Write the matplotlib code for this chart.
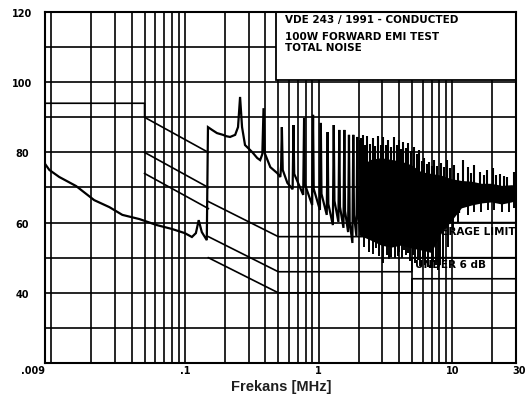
import numpy as np
import matplotlib
matplotlib.use("Agg")
import matplotlib.pyplot as plt
from matplotlib.patches import Rectangle
from matplotlib.transforms import blended_transform_factory, offset_copy

plt.rcParams['font.family'] = ['DejaVu Sans']

# Measured noise: 9 kHz - 150 kHz range, then start of the 150 kHz - 30 MHz range
spec_f = [0.0089, 0.0097, 0.0115, 0.0154, 0.021, 0.0273, 0.0341, 0.0458, 0.0616, 0.0799,
          0.100, 0.113, 0.121, 0.127, 0.134, 0.146,
          0.149, 0.160, 0.174, 0.193, 0.205, 0.218, 0.238, 0.250, 0.259, 0.268, 0.282,
          0.319, 0.348, 0.366, 0.380, 0.388, 0.396, 0.436, 0.491, 0.518, 0.525, 0.532,
          0.540, 0.585]
spec_db = [77.0, 75.0, 73.0, 70.4, 66.4, 64.4, 62.2, 61.0, 59.3, 58.2,
           57.0, 55.9, 57.0, 60.7, 57.3, 55.0,
           87.2, 86.4, 85.5, 85.0, 84.6, 84.4, 85.0, 87.2, 95.8, 87.2, 82.1,
           80.1, 78.4, 77.8, 79.5, 92.6, 79.8, 75.8, 74.1, 73.0, 76.0, 87.2,
           75.0, 71.3]

# Switching harmonics 0.65 - 2.1 MHz: peak level and floor reached just before each one
harm_f = [0.65, 0.78, 0.91, 1.04, 1.17, 1.30, 1.43, 1.56, 1.69, 1.82, 1.95, 2.08]
harm_peak = [87.8, 89.8, 90.7, 88.4, 85.8, 87.8, 86.4, 86.4, 85.0, 85.0, 84.4, 84.1]
harm_floor = [69.5, 67.9, 65.0, 63.6, 62.2, 59.3, 60.2, 58.5, 57.3, 54.2, 56.2, 57.3]

# Dense harmonic region 2 - 30 MHz: envelope of the solid trace
band_f = [2.0, 2.46, 2.93, 3.48, 4.14, 4.92, 5.85, 6.95, 8.27, 9.83, 11.7, 13.9, 16.5,
          19.6, 23.4, 27.8, 30.0]
band_hi = [76.0, 78.0, 78.5, 78.0, 77.5, 76.5, 74.5, 74.0, 73.5, 72.5, 72.0, 71.8, 71.2,
           71.2, 70.6, 70.8, 70.6]
band_lo = [56.5, 55.0, 53.6, 53.0, 53.6, 52.8, 52.2, 51.5, 57.0, 60.5, 64.2, 65.0, 65.6,
           65.9, 65.3, 65.9, 66.4]

# Individual peaks above the envelope
tip_f = [2.03, 2.14, 2.22, 2.30, 2.42, 2.55, 2.64, 2.78, 2.93, 3.03,
         3.19, 3.30, 3.48, 3.66, 3.85, 4.00, 4.14, 4.28, 4.51, 4.67,
         4.92, 5.18, 5.45, 5.65, 5.95, 6.16, 6.50, 6.71, 7.10, 7.32,
         7.70, 8.27, 8.70, 9.17, 9.60, 10.35, 11.1, 12.1, 13.2, 13.9,
         14.6, 16.0, 17.2, 18.3, 20.3, 21.4, 22.6, 24.5, 25.5, 28.8]
tip_db = [83.5, 85.0, 82.0, 84.7, 82.5, 84.1, 81.8, 84.7, 82.0, 84.4,
          82.2, 83.5, 81.5, 84.4, 82.0, 83.5, 81.0, 83.0, 81.2, 82.7,
          80.5, 81.5, 79.5, 80.7, 77.5, 78.4, 76.8, 77.3, 76.0, 77.8,
          76.0, 77.0, 75.8, 77.8, 75.5, 76.4, 74.0, 77.8, 75.8, 74.2,
          76.4, 74.4, 73.5, 75.0, 75.6, 73.6, 73.8, 73.2, 73.0, 74.4]

# Individual minima below the envelope
deep_f = [2.20, 2.38, 2.55, 2.68, 2.85, 3.03, 3.24, 3.36, 3.48, 3.72,
          3.90, 4.00, 4.20, 4.36, 4.50, 4.67, 4.85, 5.09, 5.30, 5.55,
          5.75, 6.05, 6.30, 6.60, 7.00, 7.20, 7.50, 7.85, 8.10, 8.55,
          9.33, 10.18, 11.1, 13.2, 14.6, 16.5, 18.6, 20.7, 23.4, 26.4, 29.2]
deep_db = [53.0, 51.6, 51.0, 52.8, 50.5, 48.5, 50.8, 49.5, 50.2, 49.9,
           50.5, 51.6, 49.8, 52.2, 50.8, 51.3, 49.0, 50.8, 48.5, 49.3,
           47.5, 49.9, 47.8, 47.4, 47.0, 48.8, 47.8, 46.5, 48.0, 48.8,
           53.0, 57.9, 60.2, 62.2, 63.0, 63.0, 63.6, 63.6, 63.0, 63.0, 64.2]

# Limit lines
lim_a_f, lim_a_db = [0.009, 0.05, 0.05, 0.15], [94, 94, 90, 80]
lim_b_f, lim_b_db = [0.05, 0.15], [80, 70]
lim_c_f, lim_c_db = [0.05, 0.15], [74, 64]
lim_hi_f = [0.15, 0.5, 5, 5, 30]
qp_db = [66, 56, 56, 60, 60]
avg_db = [56, 46, 46, 50, 50]
u6_db = [50, 40, 40, 44, 44]

# Axis grid and labels
x_grid_major = [0.1, 1, 10]
x_grid_minor = [0.01, 0.02, 0.03, 0.04, 0.05, 0.06, 0.07, 0.08, 0.09,
                0.2, 0.3, 0.4, 0.5, 0.6, 0.7, 0.8, 0.9,
                2, 3, 4, 5, 6, 7, 8, 9, 20]
y_grid = [30, 40, 50, 60, 70, 80, 90, 100, 110]
x_lab_pos = [0.009, 0.1, 1, 10, 30]
x_lab_txt = ['.009', '.1', '1', '10', '30']
y_lab_pos = [120, 100, 80, 60, 40]
y_lab_txt = ['120', '100', '80', '60', '40']

title_lines = ['VDE 243 / 1991 - CONDUCTED', '100W FORWARD EMI TEST', 'TOTAL NOISE']

fig = plt.figure(figsize=(5.27, 4.0), dpi=100)
ax = fig.add_axes([45 / 527, 37 / 400, 471 / 527, 351 / 400])
ax.set_xscale('log')
ax.set_xlim(0.009, 30)
ax.set_ylim(20, 120)

ax.set_xticks(x_grid_major)
ax.set_xticks(x_grid_minor, minor=True)
ax.set_yticks(y_grid)
ax.tick_params(which='both', length=0, labelbottom=False, labelleft=False)
ax.set_axisbelow(True)
ax.grid(which='both', color='black', lw=1.2)
for s in ax.spines.values():
    s.set_color('black')
    s.set_linewidth(1.5)
    s.set_zorder(10)

# Limit lines
lkw = dict(color='black', lw=1.2, zorder=2)
ax.plot(lim_a_f, lim_a_db, **lkw)
ax.plot(lim_b_f, lim_b_db, **lkw)
ax.plot(lim_c_f, lim_c_db, **lkw)
ax.plot(lim_hi_f, qp_db, **lkw)
ax.plot(lim_hi_f, avg_db, **lkw)
ax.plot(lim_hi_f, u6_db, **lkw)

lab_kw = dict(fontsize=7.5, fontweight='bold', va='center', ha='left', zorder=3)
ax.text(1.9, 63.6, 'QUASI-PEAK LIMIT', **lab_kw)
ax.text(6.38, 57.3, 'AVERAGE LIMIT', **lab_kw)
ax.text(5.3, 47.9, 'UNDER 6 dB', **lab_kw)

# Noise trace: measured points followed by the switching harmonics
tr_f = list(spec_f)
tr_db = list(spec_db)
for i, (fh, pk, fl) in enumerate(zip(harm_f, harm_peak, harm_floor)):
    nxt = harm_floor[i + 1] if i + 1 < len(harm_floor) else fl
    tr_f += [fh * 0.985, fh, fh * 1.012]
    tr_db += [fl, pk, nxt + 6]
ax.plot(tr_f, tr_db, color='black', lw=1.6, zorder=5, solid_joinstyle='miter')

ax.fill_between(band_f, band_lo, band_hi, color='black', lw=0, zorder=5)
lb = np.log10(band_f)
tip_base = np.interp(np.log10(tip_f), lb, band_hi) - 1
deep_top = np.interp(np.log10(deep_f), lb, band_lo) + 1
ax.vlines(tip_f, tip_base, tip_db, color='black', lw=1.5, zorder=5)
ax.vlines(deep_f, deep_db, deep_top, color='black', lw=1.4, zorder=5)

# Title box
ax.add_patch(Rectangle((0.483, 100.6), 30 - 0.483, 120 - 100.6, facecolor='white',
                       edgecolor='black', lw=1.3, zorder=3))
for txt, yp in zip(title_lines, [20, 37, 48]):
    fig.text(285 / 527, 1 - yp / 400, txt, fontsize=7.5, fontweight='bold',
             ha='left', va='center')

# Tick labels
tr_x = blended_transform_factory(ax.transData, ax.transAxes)
for i, (p, t) in enumerate(zip(x_lab_pos, x_lab_txt)):
    if i == 0:
        ax.text(p, -0.024, t, transform=tr_x, ha='right', va='center',
                fontsize=7, fontweight='bold')
    elif i == len(x_lab_pos) - 1:
        ax.text(p, -0.024, t, transform=offset_copy(tr_x, fig=fig, x=3, units='dots'),
                ha='center', va='center', fontsize=7, fontweight='bold')
    else:
        ax.text(p, -0.024, t, transform=tr_x, ha='center', va='center',
                fontsize=7, fontweight='bold')

tr_y = offset_copy(blended_transform_factory(ax.transAxes, ax.transData), fig=fig,
                   y=-2, units='dots')
for p, t in zip(y_lab_pos, y_lab_txt):
    ax.text(-0.0488, p, t, transform=tr_y, ha='center', va='center',
            fontsize=7, fontweight='bold')

fig.text(281 / 527, 1 - 387 / 400, 'Frekans [MHz]', fontsize=10.5, fontweight='bold',
         family='Liberation Sans', color='#1e1e1e', ha='center', va='center')

fig.savefig('out.png', dpi=100, facecolor='white')
